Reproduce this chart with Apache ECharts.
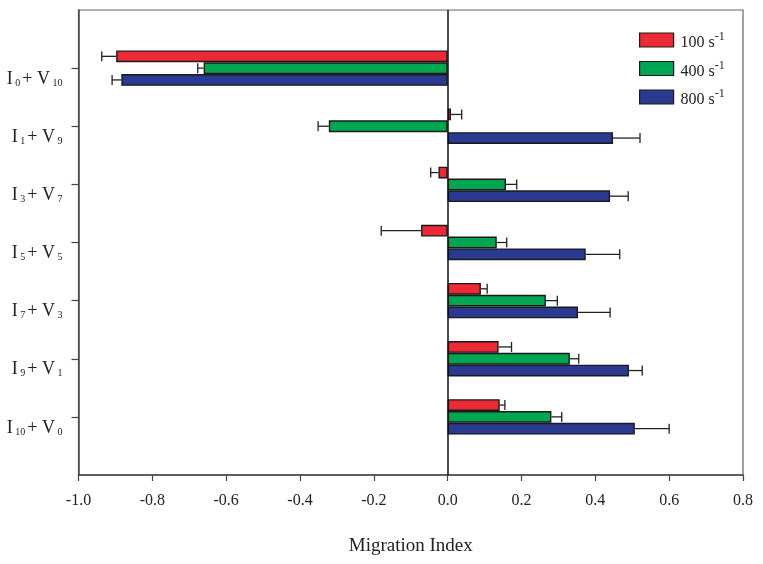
<!DOCTYPE html>
<html><head><meta charset="utf-8">
<script src="https://cdn.jsdelivr.net/npm/echarts@6/dist/echarts.min.js"></script>
<style>html,body{margin:0;padding:0;background:#fff}#c{width:763px;height:564px}</style>
</head><body><div id="c"></div>
<script>
// ---- data ----
const iSubs = ['0', '1', '3', '5', '7', '9', '10'];
const vSubs = ['10', '9', '7', '5', '3', '1', '0'];
const categories = iSubs.map((s, k) => 'I' + s + '+V' + vSubs[k]);
const shearRates = ['100', '400', '800'];
const val100 = [-0.898, 0.009, -0.025, -0.072, 0.090, 0.138, 0.141];
const err100 = [0.039, 0.029, 0.021, 0.108, 0.017, 0.035, 0.014];
const val400 = [-0.661, -0.322, 0.158, 0.133, 0.266, 0.331, 0.281];
const err400 = [0.016, 0.029, 0.029, 0.027, 0.031, 0.024, 0.028];
const val800 = [-0.884, 0.448, 0.440, 0.374, 0.353, 0.491, 0.507];
const err800 = [0.025, 0.073, 0.049, 0.092, 0.087, 0.036, 0.093];
const xMin = -1.0, xMax = 0.8, xStep = 0.2;

// ---- style ----
const colors = ['#ec2a36', '#00a651', '#2b3a91'];
const FONT = '"Liberation Serif", "DejaVu Serif", serif';
const BW = 11.8;

const axisCats = [''].concat(categories, [' ']);
const names = shearRates.map(r => r + ' s-1');
const vals = [val100, val400, val800];
const errs = [err100, err400, err800];

function pad(arr) { return ['-'].concat(arr, ['-']); }

const series = [];
vals.forEach((v, k) => {
  const s = {
    name: names[k], type: 'bar', data: pad(v), barWidth: BW, barGap: '0%',
    itemStyle: { color: colors[k], borderColor: '#1a1a1a', borderWidth: 1.4 },
    silent: true, z: 2
  };
  if (k === 0) {
    s.markLine = {
      silent: true, symbol: 'none', label: { show: false },
      lineStyle: { color: '#111', width: 1.5, type: 'solid' },
      data: [{ xAxis: 0 }]
    };
  }
  series.push(s);
});
vals.forEach((v, k) => {
  const off = (k - 1) * BW;
  series.push({
    type: 'custom', silent: true, z: 3,
    data: v.map((x, i) => [x, i + 1, errs[k][i]]),
    encode: { x: 0, y: 1 },
    renderItem: (params, api) => {
      const x = api.value(0), c = api.value(1), e = api.value(2);
      const p = api.coord([x, c]);
      const q = api.coord([x + (x < 0 ? -e : e), c]);
      const y = p[1] + off;
      return { type: 'group', children: [
        { type: 'line', shape: { x1: p[0], y1: y, x2: q[0], y2: y }, style: { stroke: '#222', lineWidth: 1.3 } },
        { type: 'line', shape: { x1: q[0], y1: y - 5, x2: q[0], y2: y + 5 }, style: { stroke: '#222', lineWidth: 1.3 } }
      ] };
    }
  });
});

const chart = echarts.init(document.getElementById('c'));
chart.setOption({
  animation: false,
  backgroundColor: '#fff',
  grid: { left: 78.5, right: 20, top: 10, bottom: 89, show: true, borderColor: '#666', borderWidth: 1.2 },
  legend: {
    data: names, orient: 'vertical', left: 639, top: 31, padding: 0,
    itemWidth: 34, itemHeight: 14, itemGap: 8.5,
    icon: 'rect',
    itemStyle: { borderColor: '#1a1a1a', borderWidth: 1.2 },
    formatter: n => '{t|' + n.replace(' s-1', ' s') + '}{sup|-1}',
    textStyle: {
      fontFamily: FONT, fontSize: 16, color: '#222', padding: [0, 0, 0, 2],
      rich: {
        t: { fontFamily: FONT, fontSize: 16, color: '#222', padding: [6, 0, 0, 0] },
        sup: { fontFamily: FONT, fontSize: 12, color: '#222', padding: [0, 0, 6, 0] }
      }
    }
  },
  xAxis: {
    type: 'value', min: xMin, max: xMax, interval: xStep,
    name: 'Migration Index', nameLocation: 'middle', nameGap: 62,
    nameTextStyle: { fontFamily: FONT, fontSize: 19, color: '#222' },
    axisLine: { show: true, onZero: false, lineStyle: { color: '#444', width: 1.5 } },
    axisTick: { show: true, length: 6, lineStyle: { color: '#444', width: 1.2 } },
    axisLabel: { margin: 18, fontFamily: FONT, fontSize: 16, color: '#222', formatter: v => v.toFixed(1) },
    splitLine: { show: false }
  },
  yAxis: {
    type: 'category', data: axisCats, inverse: true, boundaryGap: false,
    axisLine: { show: true, onZero: false, lineStyle: { color: '#444', width: 1.5 } },
    axisTick: { show: true, length: 7, interval: (i, v) => v.trim() !== '', lineStyle: { color: '#444', width: 1.2 } },
    axisLabel: {
      interval: 0, margin: 14, verticalAlign: 'top',
      formatter: (v, i) => {
        if (v.trim() === '') return '';
        const k = i - 1;
        return '{m|I}{s| ' + iSubs[k] + '}{m|+ V}{s| ' + vSubs[k] + '}';
      },
      rich: {
        m: { fontFamily: FONT, fontSize: 18, color: '#222', verticalAlign: 'bottom', lineHeight: 20 },
        s: { fontFamily: FONT, fontSize: 10, color: '#222', verticalAlign: 'bottom', lineHeight: 18, padding: [0, 2, 0, 0] }
      }
    },
    splitLine: { show: false }
  },
  series: series
});
</script>
</body></html>
